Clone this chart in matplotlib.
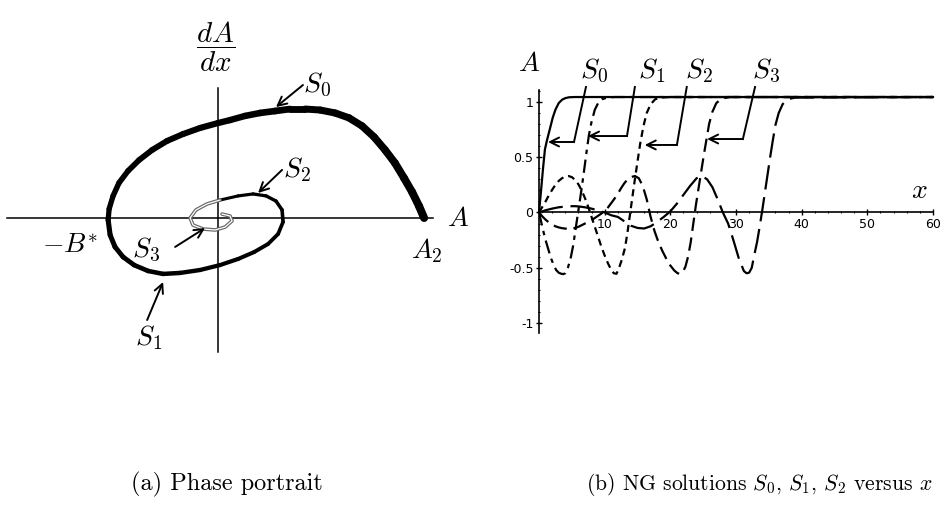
import numpy as np
import matplotlib
matplotlib.use('Agg')
import matplotlib.pyplot as plt
from matplotlib.collections import LineCollection
from matplotlib.ticker import MultipleLocator

plt.rcParams['mathtext.fontset'] = 'cm'
plt.rcParams['axes.unicode_minus'] = False

# phase portrait: one trajectory from A2 spiralling in towards the origin
phase_A = [1.046, 1.020, 0.985, 0.944, 0.898, 0.848, 0.792, 0.731, 0.665, 0.594,
           0.518, 0.442, 0.365, 0.289, 0.213, 0.137, 0.061, 0.000, -0.091, -0.178,
           -0.259, -0.335, -0.401, -0.457, -0.503, -0.533, -0.553, -0.558, -0.548, -0.523,
           -0.482, -0.426, -0.355, -0.279, -0.193, -0.091, 0.010, 0.102, 0.183, 0.254,
           0.305, 0.330, 0.325, 0.294, 0.244, 0.178, 0.102, 0.010, -0.056, -0.112,
           -0.142, -0.127, -0.076, -0.015, 0.036, 0.071, 0.061, 0.020]
phase_dA = [0.000, 0.061, 0.132, 0.203, 0.279, 0.345, 0.411, 0.467, 0.508, 0.533,
            0.548, 0.553, 0.553, 0.543, 0.533, 0.518, 0.497, 0.482, 0.457, 0.426,
            0.391, 0.345, 0.294, 0.239, 0.178, 0.112, 0.046, -0.010, -0.086, -0.147,
            -0.198, -0.239, -0.269, -0.284, -0.279, -0.264, -0.239, -0.208, -0.173, -0.132,
            -0.081, -0.020, 0.041, 0.086, 0.112, 0.122, 0.112, 0.091, 0.071, 0.041,
            0.000, -0.036, -0.056, -0.061, -0.046, -0.015, 0.010, 0.020]
n_black = 48  # points drawn as the solid black part of the spiral

# solutions A(x)
s0_x = [0, 0.3, 0.6, 0.9, 1.2, 1.5, 1.8, 2.1, 2.5, 3.0, 3.5, 4.0, 4.6, 5.5, 60]
s0_y = [0, 0.19, 0.39, 0.57, 0.65, 0.72, 0.79, 0.86, 0.93, 0.99, 1.02, 1.035, 1.043, 1.045, 1.045]

s1_x = [0, 0.35, 0.7, 1.05, 1.4, 1.8, 2.2, 2.6, 3.0, 3.4, 3.7, 4.0, 4.4, 4.8, 5.2, 5.6,
        6.0, 6.4, 6.8, 7.2, 7.6, 8.0, 8.5, 9.0, 9.6, 10.4, 11.5, 60]
s1_y = [0, -0.09, -0.18, -0.26, -0.33, -0.41, -0.47, -0.52, -0.545, -0.555, -0.558, -0.55,
        -0.5, -0.42, -0.3, -0.14, 0.02, 0.18, 0.35, 0.53, 0.7, 0.82, 0.93, 0.99, 1.025,
        1.04, 1.045, 1.045]

s2_x = [0, 0.5, 1.0, 1.5, 2.0, 2.5, 3.0, 3.5, 4.0, 4.5, 5.0, 5.5, 6.0, 6.5, 7.0, 7.5,
        8.0, 8.5, 9.0, 9.5, 10.0, 10.5, 11.0, 11.4, 11.8, 12.2, 12.6, 13.1, 13.5, 13.85,
        14.2, 14.6, 15.0, 15.4, 15.9, 16.4, 17.0, 17.7, 18.6, 20.0, 60]
s2_y = [0, 0.05, 0.1, 0.155, 0.205, 0.25, 0.285, 0.31, 0.325, 0.33, 0.32, 0.295, 0.255,
        0.2, 0.13, 0.05, -0.04, -0.13, -0.22, -0.31, -0.39, -0.46, -0.52, -0.55, -0.555,
        -0.5, -0.43, -0.32, -0.17, -0.02, 0.13, 0.3, 0.46, 0.62, 0.78, 0.9, 0.98, 1.025,
        1.04, 1.045, 1.045]

s3_x = [0, 0.5, 1.0, 1.5, 2.0, 2.5, 3.0, 3.5, 4.0, 4.5, 5.0, 5.5, 6.0, 6.5, 7.0, 7.5,
        8.0, 8.5, 9.0, 9.5, 10.0, 10.5, 11.0, 11.5, 12.0, 12.5, 13.0, 13.5, 14.0, 14.6,
        15.2, 15.8, 16.4, 17.0, 17.6, 18.2, 18.8, 19.4, 20.0, 20.6, 21.1, 21.5, 21.9,
        22.3, 22.7, 23.1, 23.5, 23.9, 24.3, 24.7, 25.1, 25.5, 25.9, 26.4, 27.0, 27.8,
        29.0, 60]
s3_y = [0, -0.035, -0.065, -0.09, -0.11, -0.125, -0.135, -0.142, -0.146, -0.147, -0.145,
        -0.14, -0.13, -0.115, -0.1, -0.085, -0.07, -0.05, -0.03, -0.01, 0.015, 0.045,
        0.085, 0.125, 0.17, 0.22, 0.265, 0.3, 0.32, 0.33, 0.31, 0.24, 0.12, -0.04, -0.17,
        -0.27, -0.35, -0.42, -0.48, -0.525, -0.55, -0.555, -0.54, -0.49, -0.4, -0.27,
        -0.1, 0.07, 0.22, 0.37, 0.52, 0.66, 0.8, 0.91, 0.99, 1.03, 1.045, 1.045]

s4_x = [0, 1, 2, 3, 4, 5, 5.5, 6, 7, 8, 9, 10, 11, 12, 13, 14, 15, 16, 17, 18, 19, 20,
        21, 22, 23, 24, 24.8, 25.6, 26.4, 27.2, 28.0, 28.8, 29.6, 30.4, 31.2, 31.6, 32.0,
        32.4, 32.8, 33.2, 33.6, 34.0, 34.4, 34.8, 35.2, 35.6, 36.0, 36.5, 37.1, 37.9,
        39.0, 60]
s4_y = [0, 0.02, 0.035, 0.047, 0.054, 0.057, 0.057, 0.055, 0.047, 0.035, 0.018, 0.0,
        -0.025, -0.04, -0.08, -0.12, -0.14, -0.145, -0.125, -0.085, -0.04, 0.01, 0.08,
        0.16, 0.24, 0.31, 0.33, 0.3, 0.23, 0.12, 0.0, -0.1, -0.25, -0.41, -0.53, -0.55,
        -0.545, -0.5, -0.38, -0.27, -0.13, 0.02, 0.18, 0.34, 0.5, 0.65, 0.79, 0.9, 0.98,
        1.025, 1.04, 1.045]

y_ticks = [-1, -0.5, 0, 0.5, 1]
y_tick_labels = ['-1', '-0.5', '0', '0.5', '1']
x_ticks = [10, 20, 30, 40, 50, 60]

fig = plt.figure(figsize=(9.44, 5.07), dpi=100)

# ---- (a) phase portrait ----
ax1 = fig.add_axes([0, 1 - 400 / 507, 470 / 944, 380 / 507])
ax1.set_xlim(-1.107, 1.279)
ax1.set_ylim(-0.924, 1.005)
ax1.axis('off')

ax1.plot([-1.071, 1.091], [0, 0], color='k', lw=1.1)
ax1.plot([0, 0], [-0.68, 0.66], color='k', lw=1.1)

pts = np.column_stack([phase_A, phase_dA])
segs = np.stack([pts[:n_black - 1], pts[1:n_black]], axis=1)
widths = np.linspace(5.8, 2.2, len(segs))
lc = LineCollection(segs, linewidths=widths, colors='k', capstyle='round', joinstyle='round')
ax1.add_collection(lc)
ax1.plot(phase_A[n_black - 1:], phase_dA[n_black - 1:], color='0.4', lw=2.6,
         solid_capstyle='round')
ax1.plot(phase_A[n_black - 1:], phase_dA[n_black - 1:], color='white', lw=0.9,
         solid_capstyle='round')

fs = 20
ax1.text(-0.015, 0.868, r'$\dfrac{dA}{dx}$', fontsize=21, ha='center', va='center')
ax1.text(1.218, 0.0, r'$A$', fontsize=fs, ha='center', va='center')
ax1.text(1.061, -0.168, r'$A_2$', fontsize=fs, ha='center', va='center')
ax1.text(-0.751, -0.137, r'$-B^{*}$', fontsize=fs, ha='center', va='center')

phase_labels = [
    (r'$S_0$', (0.500, 0.675), (0.431, 0.675), (0.294, 0.563)),
    (r'$S_2$', (0.399, 0.244), (0.325, 0.244), (0.203, 0.127)),
    (r'$S_3$', (-0.365, -0.162), (-0.218, -0.147), (-0.066, -0.051)),
    (r'$S_1$', (-0.355, -0.609), (-0.360, -0.518), (-0.279, -0.325)),
]
for lab, pos, start, tip in phase_labels:
    ax1.text(pos[0], pos[1], lab, fontsize=fs, ha='center', va='center')
    ax1.annotate('', xy=tip, xytext=start,
                 arrowprops=dict(arrowstyle='->', lw=1.4, mutation_scale=16,
                                 shrinkA=0, shrinkB=0))

# ---- (b) solutions versus x ----
ax2 = fig.add_axes([539 / 944, 1 - 332.9 / 507, 394 / 944, 242.5 / 507])
ax2.set_xlim(0, 60)
ax2.set_ylim(-1.09, 1.105)
for side in ['top', 'right']:
    ax2.spines[side].set_visible(False)
ax2.spines['left'].set_position(('data', 0))
ax2.spines['bottom'].set_position(('data', 0))
for side in ['left', 'bottom']:
    ax2.spines[side].set_linewidth(1.2)

ax2.set_xticks(x_ticks)
ax2.set_yticks(y_ticks, labels=y_tick_labels)
ax2.xaxis.set_minor_locator(MultipleLocator(2))
ax2.yaxis.set_minor_locator(MultipleLocator(0.1))
ax2.tick_params(which='major', length=4, width=1, direction='inout', labelsize=9, pad=2)
ax2.tick_params(which='minor', length=2, width=0.8, direction='inout')

lw = 1.6
ax2.plot(s0_x, s0_y, color='k', lw=lw, clip_on=False)
ax2.plot(s1_x, s1_y, color='k', lw=lw, dashes=(6, 2.5, 2, 2.5))
ax2.plot(s2_x, s2_y, color='k', lw=lw, dashes=(3.2, 2.2))
ax2.plot(s3_x, s3_y, color='k', lw=lw, dashes=(6, 3))
ax2.plot(s4_x, s4_y, color='k', lw=lw, dashes=(11, 3.5))

ax2.text(-1.5, 1.35, r'$A$', fontsize=fs, ha='center', va='center')
ax2.text(57.9, 0.2, r'$x$', fontsize=fs, ha='center', va='center')

sol_labels = [
    (r'$S_0$', 8.4, (7.15, 1.136), (5.33, 0.638), (1.37, 0.638)),
    (r'$S_1$', 17.1, (14.6, 1.136), (13.4, 0.692), (7.46, 0.692)),
    (r'$S_2$', 24.3, (22.5, 1.136), (21.0, 0.611), (16.1, 0.611)),
    (r'$S_3$', 34.6, (32.9, 1.136), (31.05, 0.665), (25.6, 0.665)),
]
for lab, lx, top, corner, tip in sol_labels:
    ax2.text(lx, 1.28, lab, fontsize=fs, ha='center', va='center')
    ax2.plot([top[0], corner[0]], [top[1], corner[1]], color='k', lw=1.4, clip_on=False)
    ax2.annotate('', xy=tip, xytext=corner, annotation_clip=False,
                 arrowprops=dict(arrowstyle='->', lw=1.4, mutation_scale=16,
                                 shrinkA=0, shrinkB=0))

# captions
fig.text(227 / 944, 1 - 484 / 507, '(a) Phase portrait', fontsize=17.5,
         family='cmr10', ha='center', va='center')
fig.text(759 / 944, 1 - 484 / 507, r'(b) NG solutions $S_0$, $S_1$, $S_2$ versus $x$',
         fontsize=15.6, family='cmr10', ha='center', va='center')

fig.savefig('out.png', dpi=100)
